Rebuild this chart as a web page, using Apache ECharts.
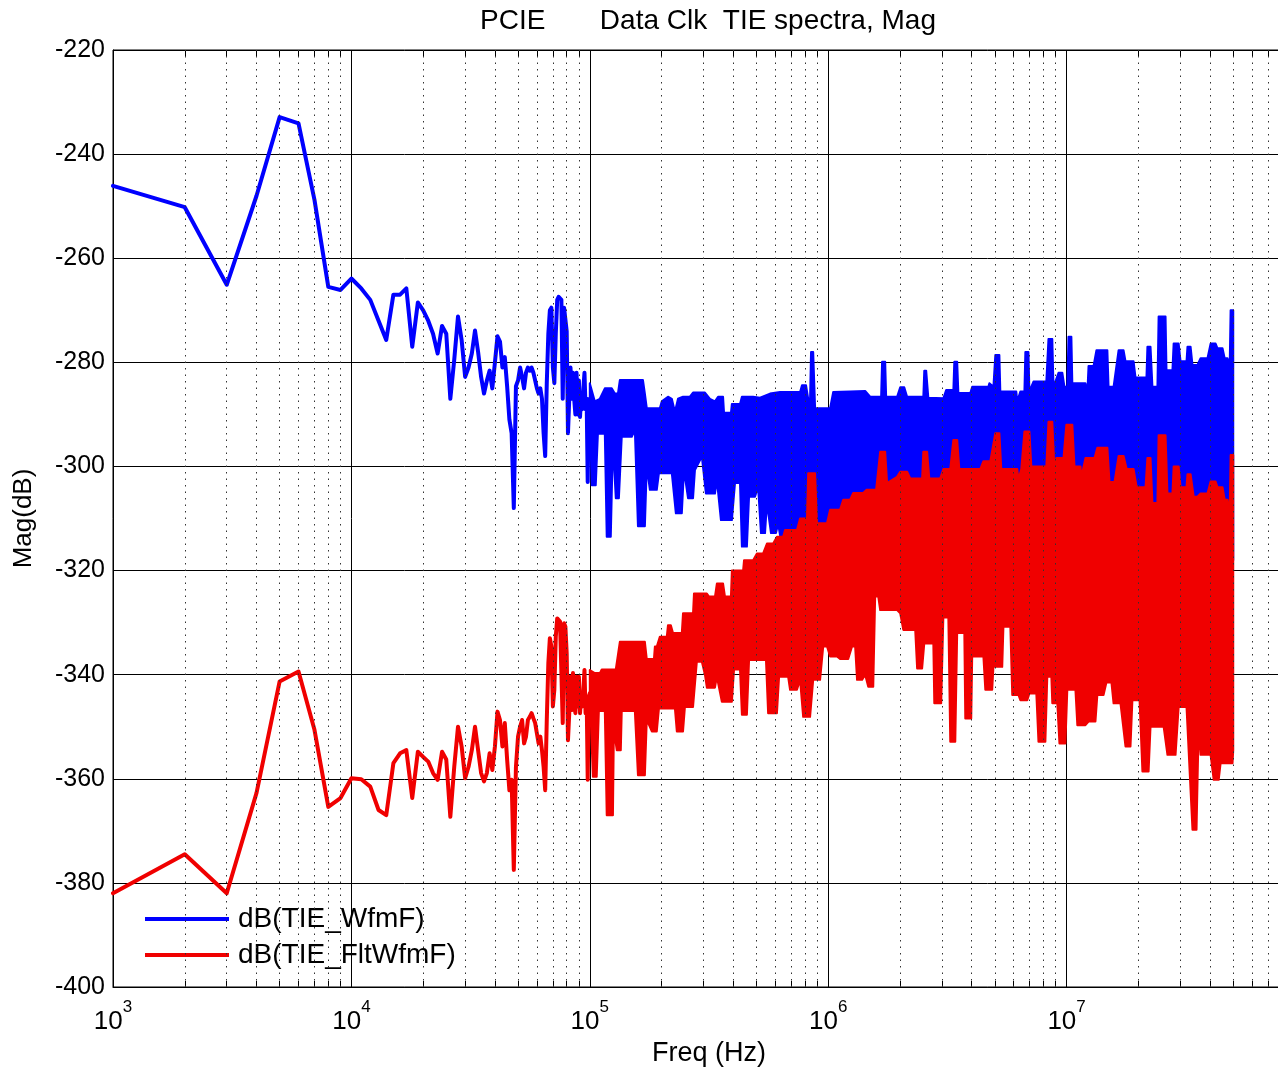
<!DOCTYPE html>
<html><head><meta charset="utf-8">
<script src="https://cdn.jsdelivr.net/npm/echarts@6/dist/echarts.min.js"></script>
<style>html,body{margin:0;padding:0;background:#fff}#c{width:1278px;height:1072px}</style>
</head><body><div id="c"></div>
<script>
// ---- data ----
const lowFreqKHz = [1,2,3,4,5,6,7,8,9,10,11,12,13,14,15,16,17,18,19,20,21,22,23,24,25,26,27,28,29,30,31,32,33,34,35,36,37,38,39,40,41,42,43,44,45,46,47,48,49,50,51,52,53,54,55,56,57,58,59,60,61,62,63,64,65,66,67,68,69,70,71,72,73,74,75,76,77,78,79,80,81,82,83,84,85,86,87,88,89,90,91,92,93,94,95,96,97,98,99,100];
const blueLowDb = [-246.1,-250.2,-265.1,-248,-232.9,-234.1,-248.8,-265.5,-266.1,-263.9,-265.8,-268,-272,-275.7,-267,-267,-265.8,-277,-268.5,-270,-272,-274.5,-278.3,-273,-274.5,-287,-279.5,-271.2,-275.7,-282.8,-281,-278.3,-273.9,-278,-282.8,-286,-283.5,-281.6,-285,-280,-275,-276,-281,-279,-284.6,-291,-293.6,-308,-284.6,-283.5,-281,-282.8,-285,-282,-281,-281.6,-281,-282,-283.5,-285,-286,-285,-287,-293.6,-298,-284,-274.5,-270,-269.5,-281,-284,-274.5,-268,-267.4,-267.4,-268,-287,-269.5,-269.5,-274,-293.6,-287,-281,-287,-282,-287,-290,-282,-290,-283.5,-290.5,-286,-289,-285,-282,-289,-287,-303,-288,-287];
const redLowDb = [-382,-374.5,-382,-362.7,-341.3,-339.4,-350.6,-365.4,-363.7,-359.9,-360.1,-361.5,-366,-367,-357,-355.1,-354.5,-363.7,-354.8,-355.8,-356.7,-358.9,-360.2,-354.8,-356.3,-367.3,-357.7,-350,-353.8,-359.9,-357.7,-354.5,-350,-354.5,-358.9,-360.5,-358.9,-355.1,-358.3,-353.8,-347.1,-348.7,-353.8,-349.3,-356.3,-362.2,-360.2,-377.5,-357.7,-351.9,-350,-348.7,-353.2,-351.9,-348.7,-348.1,-347.4,-348.4,-349.3,-351.3,-353.2,-351.9,-354.5,-357.7,-362.2,-348.7,-337.8,-333,-334.6,-346.1,-342.9,-332.7,-329.2,-329.5,-329.8,-330.1,-349.3,-330.1,-330.8,-335.9,-352.6,-347.4,-340.4,-346.8,-339.7,-344.9,-347.4,-340.4,-346.1,-340.4,-347.4,-343.6,-346.1,-342.9,-339.1,-347.4,-344.2,-360.2,-344.2,-343.6];

// dense part (100 kHz .. 50 MHz): envelopes as [log10(freq/Hz), dB]
const blueTop = [[5.000,-284],[5.021,-287.5],[5.042,-287],[5.063,-285],[5.092,-285],[5.105,-286],[5.118,-286],[5.126,-283.4],[5.223,-283.4],[5.231,-286],[5.239,-288.8],[5.294,-288.8],[5.302,-287.5],[5.328,-286.6],[5.344,-287],[5.357,-289.5],[5.370,-287],[5.391,-286.6],[5.420,-286.6],[5.433,-285.8],[5.483,-285.8],[5.504,-287],[5.525,-287.5],[5.538,-286.6],[5.559,-286.6],[5.563,-289.7],[5.592,-289.7],[5.596,-288],[5.630,-288],[5.638,-286.6],[5.685,-286.6],[5.714,-286.8],[5.756,-286],[5.798,-285.7],[5.882,-285.7],[5.890,-284.4],[5.907,-284.4],[5.916,-287],[5.924,-287],[5.928,-278],[5.937,-278],[5.945,-288.8],[6.008,-288.8],[6.021,-285.7],[6.092,-285.6],[6.155,-285.5],[6.176,-286.6],[6.222,-286.6],[6.226,-279.9],[6.239,-279.9],[6.243,-286.6],[6.289,-286.6],[6.302,-284.8],[6.319,-284.8],[6.331,-286.6],[6.399,-286.6],[6.403,-281.6],[6.411,-281.6],[6.420,-286.8],[6.483,-286.9],[6.495,-285.3],[6.525,-285.3],[6.529,-279.9],[6.541,-279.9],[6.546,-285.9],[6.596,-285.9],[6.604,-284.7],[6.672,-284.7],[6.676,-284],[6.693,-284.7],[6.701,-278.6],[6.718,-278.6],[6.722,-285.6],[6.789,-285.6],[6.793,-287.5],[6.806,-285.6],[6.823,-285.6],[6.827,-278],[6.840,-278],[6.844,-285.6],[6.861,-283.7],[6.915,-283.7],[6.924,-275.5],[6.940,-275.5],[6.945,-284.7],[6.966,-282],[6.982,-282],[6.991,-284.7],[7.003,-284.7],[7.008,-275.1],[7.020,-275.1],[7.024,-284],[7.079,-284],[7.087,-285.9],[7.092,-280.7],[7.113,-280.7],[7.125,-277.7],[7.171,-277.7],[7.176,-284.7],[7.197,-284.7],[7.218,-277.7],[7.239,-277.7],[7.247,-279.8],[7.281,-279.8],[7.289,-282.9],[7.335,-282.9],[7.339,-277],[7.352,-277],[7.360,-284.7],[7.381,-284.7],[7.386,-271.2],[7.415,-271.2],[7.419,-281.5],[7.444,-281.5],[7.449,-276.4],[7.470,-276.4],[7.478,-279.8],[7.503,-279.8],[7.507,-277],[7.520,-277],[7.528,-280.5],[7.549,-280.5],[7.562,-279.2],[7.591,-279.2],[7.604,-276.4],[7.625,-276.4],[7.633,-277.3],[7.654,-277.3],[7.663,-279.2],[7.675,-279.2],[7.684,-281],[7.688,-270],[7.699,-270]];
const blueBottom = [[5.000,-290],[5.008,-303.6],[5.025,-303.6],[5.034,-293.7],[5.063,-293.7],[5.071,-313.5],[5.088,-313.5],[5.097,-295.6],[5.109,-306.1],[5.122,-306.1],[5.134,-294.3],[5.176,-294.3],[5.189,-293],[5.202,-311.5],[5.231,-311.5],[5.239,-300],[5.252,-304.5],[5.281,-304.5],[5.290,-301.3],[5.344,-301.3],[5.361,-309],[5.386,-309],[5.395,-300.7],[5.412,-306.1],[5.433,-306.1],[5.441,-300.7],[5.470,-298.1],[5.487,-305.2],[5.525,-305.2],[5.533,-302.6],[5.550,-310.3],[5.596,-310.3],[5.609,-303.2],[5.630,-303.2],[5.638,-315.4],[5.659,-315.4],[5.668,-305.8],[5.693,-305.8],[5.706,-304],[5.718,-312.8],[5.735,-312.8],[5.743,-307.1],[5.760,-312.8],[5.781,-312.8],[5.790,-311],[5.815,-318],[7.699,-318]];
const redTop = [[5.000,-339.1],[5.021,-339.7],[5.042,-339.7],[5.050,-339],[5.109,-339],[5.126,-333.7],[5.231,-333.7],[5.239,-337],[5.269,-337],[5.273,-334.6],[5.281,-334.6],[5.294,-332.7],[5.323,-332.7],[5.328,-330.5],[5.340,-330.5],[5.349,-332],[5.386,-332],[5.391,-328.2],[5.433,-328.2],[5.437,-324.4],[5.491,-324.4],[5.500,-325],[5.525,-325],[5.533,-322.5],[5.559,-322.5],[5.567,-325],[5.592,-325],[5.596,-320],[5.643,-320],[5.647,-318],[5.685,-318],[5.701,-316.7],[5.727,-316.7],[5.743,-314.8],[5.769,-314.8],[5.785,-313.5],[5.811,-313.5],[5.819,-312.2],[5.869,-312.2],[5.882,-310],[5.911,-310],[5.916,-301.3],[5.945,-301.3],[5.953,-310.9],[5.995,-310.9],[6.008,-308.3],[6.050,-308.3],[6.063,-306.4],[6.092,-306.4],[6.105,-305.1],[6.147,-305.1],[6.160,-304.5],[6.201,-304.5],[6.218,-297.2],[6.239,-297.2],[6.247,-303.2],[6.289,-302],[6.302,-301],[6.331,-301],[6.344,-302.3],[6.394,-302.3],[6.399,-297.2],[6.415,-297.2],[6.424,-302.3],[6.470,-302.3],[6.483,-300.5],[6.512,-300.5],[6.525,-294.9],[6.541,-294.9],[6.550,-300.5],[6.638,-300.5],[6.651,-299],[6.680,-299],[6.701,-293.6],[6.718,-293.6],[6.726,-300.5],[6.793,-300.5],[6.798,-302.5],[6.810,-300.5],[6.823,-293.3],[6.844,-293.3],[6.852,-300],[6.915,-300],[6.924,-291.4],[6.940,-291.4],[6.949,-300.5],[6.957,-298.4],[6.987,-298.4],[6.999,-292],[7.024,-292],[7.033,-300],[7.058,-300],[7.062,-302],[7.079,-298.4],[7.117,-298.4],[7.129,-296.4],[7.171,-296.4],[7.180,-303],[7.201,-303],[7.218,-298],[7.239,-298],[7.252,-300.5],[7.281,-300.5],[7.294,-304],[7.331,-304],[7.339,-298.4],[7.352,-298.4],[7.360,-307],[7.381,-307],[7.386,-294],[7.415,-294],[7.423,-305.2],[7.444,-305.2],[7.449,-300],[7.470,-300],[7.478,-304],[7.503,-304],[7.507,-301.5],[7.520,-301.5],[7.533,-305.8],[7.549,-305.8],[7.562,-305.2],[7.591,-305.2],[7.604,-302.9],[7.625,-302.9],[7.633,-304],[7.654,-304],[7.663,-306.4],[7.675,-306.4],[7.684,-309],[7.688,-297.8],[7.699,-297.8]];
const redBottom = [[5.000,-343.6],[5.013,-359.6],[5.029,-359.6],[5.038,-347],[5.063,-347],[5.071,-367],[5.097,-367],[5.101,-350.6],[5.113,-354.5],[5.130,-354.5],[5.134,-347],[5.189,-347],[5.202,-359.3],[5.231,-359.3],[5.239,-348.7],[5.260,-350.9],[5.281,-350.9],[5.290,-346.5],[5.357,-346.5],[5.365,-350.9],[5.391,-350.9],[5.399,-346.2],[5.433,-346.2],[5.449,-337.5],[5.470,-337.5],[5.483,-340],[5.491,-342.5],[5.525,-342.5],[5.533,-340.4],[5.554,-345.2],[5.596,-345.2],[5.605,-339],[5.630,-339],[5.638,-347.7],[5.659,-347.7],[5.668,-337.2],[5.739,-337.2],[5.748,-347.4],[5.785,-347.4],[5.794,-340.4],[5.832,-340.4],[5.840,-342.9],[5.869,-342.9],[5.882,-341],[5.895,-348.1],[5.924,-348.1],[5.937,-341],[5.966,-341],[5.979,-334.6],[5.995,-334.6],[6.008,-336.5],[6.037,-336.5],[6.050,-337],[6.084,-337],[6.100,-334.6],[6.113,-334.6],[6.121,-341],[6.142,-341],[6.155,-340],[6.168,-342.3],[6.189,-342.3],[6.197,-325],[6.210,-325],[6.218,-327.6],[6.289,-327.6],[6.302,-328.2],[6.315,-331.4],[6.365,-331.4],[6.373,-338.8],[6.394,-338.8],[6.403,-334],[6.441,-334],[6.445,-345.5],[6.474,-345.5],[6.483,-329],[6.504,-329],[6.512,-352.9],[6.533,-352.9],[6.541,-332],[6.571,-332],[6.575,-348.4],[6.600,-348.4],[6.604,-336.5],[6.651,-336.5],[6.659,-342.9],[6.688,-342.9],[6.693,-338.5],[6.730,-338.5],[6.735,-330.8],[6.764,-330.8],[6.772,-343.9],[6.798,-343.9],[6.806,-344.9],[6.835,-344.9],[6.844,-343.6],[6.873,-343.6],[6.882,-352.9],[6.911,-352.9],[6.919,-340.4],[6.936,-340.4],[6.940,-345.5],[6.961,-345.5],[6.970,-353.2],[6.995,-353.2],[7.003,-342.9],[7.037,-342.9],[7.045,-349.7],[7.079,-349.7],[7.092,-349],[7.121,-349],[7.129,-343.9],[7.155,-343.9],[7.167,-341.5],[7.188,-341.5],[7.197,-345.5],[7.226,-345.5],[7.247,-353.8],[7.268,-353.8],[7.276,-344.9],[7.306,-344.9],[7.318,-358.6],[7.344,-358.6],[7.352,-350],[7.407,-350],[7.423,-355.4],[7.457,-355.4],[7.470,-346.2],[7.503,-346.2],[7.528,-369.8],[7.545,-369.8],[7.554,-350],[7.562,-355.4],[7.604,-355.4],[7.617,-360.2],[7.638,-360.2],[7.646,-357],[7.696,-357],[7.699,-354.5]];

const majorTickHz = [1e3,1e4,1e5,1e6,1e7,1e8];
const minorGridHz = [2e3,3e3,4e3,5e3,6e3,7e3,8e3,9e3,2e4,3e4,4e4,5e4,6e4,7e4,8e4,9e4,2e5,3e5,4e5,5e5,6e5,7e5,8e5,9e5,2e6,3e6,4e6,5e6,6e6,7e6,8e6,9e6,2e7,3e7,4e7,5e7,6e7,7e7,8e7,9e7];
const seriesNames = ['dB(TIE_WfmF)', 'dB(TIE_FltWfmF)'];
const titleText = 'PCIE       Data Clk  TIE spectra, Mag';

// ---- chart ----
const FONT = 'Liberation Sans, Arial, sans-serif';
const BLUE = '#0000ff', RED = '#f00000';

function band(name, top, bottom, color, z) {
  return {
    name: name, type: 'custom', coordinateSystem: 'cartesian2d', silent: true, z: z,
    data: [[1e5, -300]],
    renderItem: function (params, api) {
      const pts = top.map(p => api.coord([Math.pow(10, p[0]), p[1]]));
      for (let i = bottom.length - 1; i >= 0; i--) {
        pts.push(api.coord([Math.pow(10, bottom[i][0]), bottom[i][1]]));
      }
      return { type: 'polygon', shape: { points: pts },
        style: { fill: color, stroke: color, lineWidth: 2, lineJoin: 'round' } };
    }
  };
}

function tickAxis(position, values) {
  return {
    type: 'log', logBase: 10, min: 1e3, max: 1e8, position: position,
    axisLine: { show: false },
    axisTick: { show: true, inside: true, length: 6, customValues: values, lineStyle: { color: '#000' } },
    axisLabel: { show: false }, splitLine: { show: false }, minorTick: { show: false }
  };
}

const chart = echarts.init(document.getElementById('c'), null, { renderer: 'canvas' });
chart.setOption({
  animation: false,
  backgroundColor: '#fff',
  graphic: [{ type: 'text', x: 708, y: 7, style: { text: titleText, fontSize: 28, fontFamily: FONT, fill: '#000', textAlign: 'center' } }],
  grid: { left: 113, top: 50, right: -27, bottom: 85, show: true, borderColor: '#000', borderWidth: 1,
          containLabel: false, outerBoundsMode: 'none' },
  legend: {
    left: 140, top: 900, orient: 'vertical', itemWidth: 84, itemHeight: 4, itemGap: 8,
    textStyle: { fontSize: 28, fontFamily: FONT, color: '#000', padding: [0, 0, 0, 4] },
    data: [{ name: seriesNames[0], icon: 'rect' }, { name: seriesNames[1], icon: 'rect' }]
  },
  xAxis: [{
    type: 'log', logBase: 10, min: 1e3, max: 1e8, position: 'bottom',
    axisLine: { show: true, lineStyle: { color: '#000', width: 1 } },
    axisTick: { show: true, inside: true, length: 8, lineStyle: { color: '#000' } },
    splitLine: { show: true, lineStyle: { color: '#000', width: 1 } },
    axisLabel: {
      margin: 12,
      formatter: v => '{b|10}{s|' + Math.round(Math.log10(v)) + '}',
      rich: {
        b: { fontSize: 26, fontFamily: FONT, color: '#000', verticalAlign: 'bottom', padding: [10, 0, 0, 0] },
        s: { fontSize: 17, fontFamily: FONT, color: '#000', verticalAlign: 'top' }
      }
    },
    name: 'Freq (Hz)', nameLocation: 'middle', nameGap: 51,
    nameTextStyle: { fontSize: 27, fontFamily: FONT, color: '#000' }
  },
  tickAxis('top', majorTickHz.concat(minorGridHz)),
  tickAxis('bottom', minorGridHz)],
  yAxis: {
    type: 'value', min: -400, max: -220, interval: 20,
    axisLine: { show: true, lineStyle: { color: '#000', width: 1 } },
    axisTick: { show: true, inside: true, length: 8, lineStyle: { color: '#000' } },
    splitLine: { show: true, lineStyle: { color: '#000', width: 1 } },
    axisLabel: { fontSize: 25, fontFamily: FONT, color: '#000', margin: 8 },
    name: 'Mag(dB)', nameLocation: 'middle', nameGap: 76, nameRotate: 90,
    nameTextStyle: { fontSize: 26, fontFamily: FONT, color: '#000' }
  },
  series: [
    { name: 'minor', type: 'line', z: 1, data: [[1e3, -400]], showSymbol: false, lineStyle: { opacity: 0 }, silent: true,
      markLine: { silent: true, symbol: ['none', 'none'], label: { show: false }, animation: false,
        lineStyle: { color: '#333', width: 1, type: [1.5, 5] },
        data: minorGridHz.map(v => ({ xAxis: v })) } },
    { name: seriesNames[0], type: 'line', z: 3, color: BLUE, showSymbol: false, silent: true,
      lineStyle: { width: 4, color: BLUE, join: 'round', cap: 'round' },
      data: lowFreqKHz.map((k, i) => [k * 1000, blueLowDb[i]]) },
    band('blueBand', blueTop, blueBottom, BLUE, 3),
    { name: seriesNames[1], type: 'line', z: 4, color: RED, showSymbol: false, silent: true,
      lineStyle: { width: 4, color: RED, join: 'round', cap: 'round' },
      data: lowFreqKHz.map((k, i) => [k * 1000, redLowDb[i]]) },
    band('redBand', redTop, redBottom, RED, 4)
  ]
});
</script></body></html>
